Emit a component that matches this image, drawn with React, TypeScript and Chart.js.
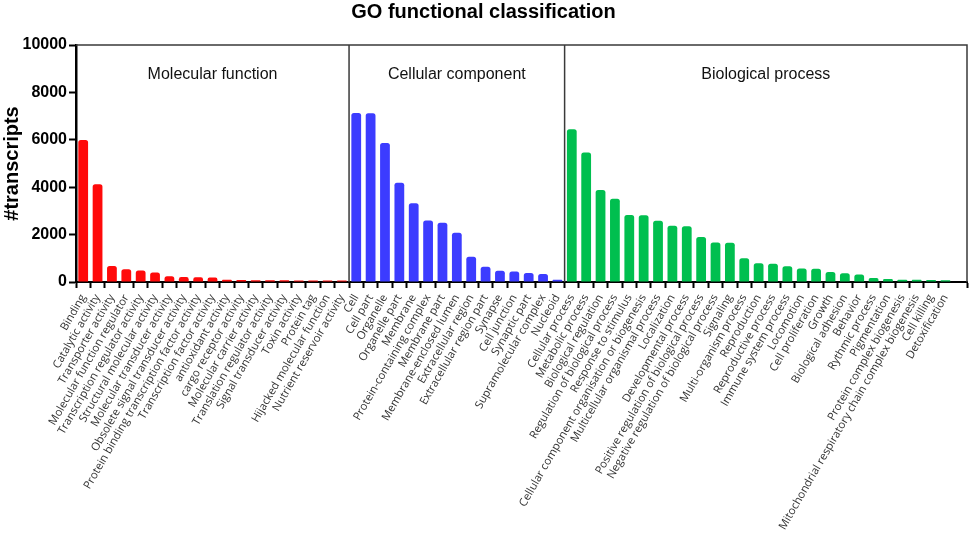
import { useEffect, useRef } from "react";
import { Chart, registerables, type Plugin } from "chart.js";

Chart.register(...registerables);

const mfLabels = [
  "Binding",
  "Catalytic activity",
  "Transporter activity",
  "Molecular function regulator",
  "Transcription regulator activity",
  "Structural molecular activity",
  "Molecular transducer activity",
  "Obsolete signal transducer activity",
  "Protein binding transcription factor activity",
  "Transcription factor activity",
  "antioxidant activity",
  "cargo receptor activity",
  "Molecular carrier activity",
  "Translation regulator activity",
  "Signal transducer activity",
  "Toxin activity",
  "Protein tag",
  "Hijacked molecular function",
  "Nutrient reservoir activity",
];
const mfValues = [5990, 4120, 680, 540, 480, 400, 240, 210, 200, 185, 100, 80, 75, 70, 70, 65, 65, 60, 60];

const ccLabels = [
  "Cell",
  "Cell part",
  "Organelle",
  "Organelle part",
  "Membrane",
  "Protein-containing complex",
  "Membrane part",
  "Membrane-enclosed lumen",
  "Extracellular region",
  "Extracellular region part",
  "Synapse",
  "Cell junction",
  "Synaptic part",
  "Supramolecular complex",
  "Nucleoid",
];
const ccValues = [7130, 7120, 5870, 4190, 3320, 2590, 2500, 2080, 1070, 640, 470, 440, 380, 340, 90];

const bpLabels = [
  "Cellular process",
  "Metabolic process",
  "Biological regulation",
  "Regulation of biological process",
  "Response to stimulus",
  "Cellular component organisation or biogenesis",
  "Multicellular organismal process",
  "Localization",
  "Developmental process",
  "Positive regulation of biological process",
  "Negative regulation of biological process",
  "Signaling",
  "Multi-organism process",
  "Reproduction",
  "Reproductive process",
  "Immune system process",
  "Locomotion",
  "Cell proliferation",
  "Growth",
  "Biological adhesion",
  "Behavior",
  "Rythmic process",
  "Pigmentation",
  "Protein complex biogenesis",
  "Mitochondrial respiratory chain complex biogenesis",
  "Cell killing",
  "Detoxification",
];
const bpValues = [
  6450, 5460, 3880, 3510, 2830, 2820, 2580, 2370, 2350, 1900, 1670, 1660, 1000, 790, 770, 660, 570, 560, 420, 370,
  320, 170, 130, 100, 90, 80, 70,
];

const groupNames = ["Molecular function", "Cellular component", "Biological process"];
const groupColors = ["#FF0A0A", "#3C3CFF", "#00BF4F"];
const yTicks = [0, 2000, 4000, 6000, 8000, 10000];

const groups = [mfLabels, ccLabels, bpLabels];
const labels = [...mfLabels, ...ccLabels, ...bpLabels, ""]; // trailing empty slot, as in the original
const values: (number | null)[] = [...mfValues, ...ccValues, ...bpValues, null];
const colors = groups.flatMap((g, i) => g.map(() => groupColors[i]));

// top/right frame, group separators and group captions
const groupFrame: Plugin<"bar"> = {
  id: "groupFrame",
  afterDatasetsDraw(chart) {
    const { ctx, chartArea: a } = chart;
    const x = chart.scales.x;
    const edges = [a.left];
    ctx.save();
    ctx.strokeStyle = "#3a3a3a";
    ctx.lineWidth = 1.5;
    ctx.beginPath();
    ctx.moveTo(a.left, a.top);
    ctx.lineTo(a.right, a.top);
    ctx.lineTo(a.right, a.bottom);
    let n = 0;
    groups.forEach((g, i) => {
      n += g.length;
      if (i === groups.length - 1) return;
      const px = (x.getPixelForValue(n - 1) + x.getPixelForValue(n)) / 2;
      edges.push(px);
      ctx.moveTo(px, a.top);
      ctx.lineTo(px, a.bottom);
    });
    edges.push(a.right);
    ctx.stroke();
    ctx.fillStyle = "#111";
    ctx.font = "16px 'Liberation Sans', Arial, sans-serif";
    ctx.textAlign = "center";
    ctx.textBaseline = "middle";
    groupNames.forEach((name, i) => ctx.fillText(name, (edges[i] + edges[i + 1]) / 2, a.top + 30));
    ctx.restore();
  },
};

export default function App() {
  const canvasRef = useRef<HTMLCanvasElement>(null);

  useEffect(() => {
    document.body.style.margin = "0";
    if (!canvasRef.current) return;
    const chart = new Chart(canvasRef.current, {
      type: "bar",
      data: {
        labels,
        datasets: [
          {
            data: values,
            backgroundColor: colors,
            borderRadius: 2.5,
            borderSkipped: "start",
            categoryPercentage: 1,
            barPercentage: 0.68,
          },
        ],
      },
      plugins: [groupFrame],
      options: {
        responsive: true,
        maintainAspectRatio: false,
        animation: false,
        layout: { padding: { right: 2, left: 0, bottom: 0 } },
        plugins: {
          legend: { display: false },
          tooltip: { enabled: false },
          title: {
            display: true,
            text: "GO functional classification",
            color: "#000",
            font: { family: "'Liberation Sans', Arial, sans-serif", size: 20, weight: "bold" },
            padding: { top: 0, bottom: 21 },
          },
        },
        scales: {
          x: {
            afterFit: (scale) => {
              scale.height = 253;
              scale.paddingLeft = 0;
              scale.paddingRight = 0;
            },
            grid: {
              drawOnChartArea: false,
              tickLength: 6,
              tickWidth: 2,
              tickColor: (c) => (c.index === labels.length - 1 ? "rgba(0,0,0,0)" : "#000"),
            },
            border: { color: "#000", width: 2 },
            ticks: {
              autoSkip: false,
              minRotation: 60,
              maxRotation: 60,
              padding: 4,
              color: "#333",
              font: { family: "'Open Sans', sans-serif", size: 11.2 },
            },
          },
          y: {
            min: yTicks[0],
            max: yTicks[yTicks.length - 1],
            afterFit: (scale) => {
              scale.width = 76;
            },
            grid: { drawOnChartArea: false, tickLength: 7, tickWidth: 2, tickColor: "#000" },
            border: { color: "#000", width: 2.5 },
            ticks: {
              stepSize: yTicks[1] - yTicks[0],
              padding: 2,
              color: "#000",
              font: { family: "'Liberation Sans', Arial, sans-serif", size: 16, weight: "bold" },
              callback: (v) => String(v),
            },
            title: {
              display: true,
              text: "#transcripts",
              color: "#000",
              padding: { top: 0, bottom: 0 },
              font: { family: "'Liberation Sans', Arial, sans-serif", size: 20, weight: "bold" },
            },
          },
        },
      },
    });
    return () => chart.destroy();
  }, []);

  return (
    <div style={{ position: "relative", width: 969, height: 535 }}>
      <canvas ref={canvasRef} />
    </div>
  );
}
